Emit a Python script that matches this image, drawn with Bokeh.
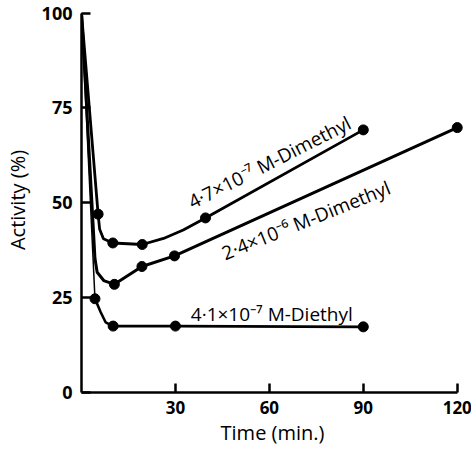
from bokeh.plotting import figure
from bokeh.models import Range1d, FixedTicker
from bokeh.embed import file_html
from bokeh.resources import INLINE
from bokeh.core.properties import value

# ---- data ----
# 4.7e-7 M Dimethyl: measured points
dm47_t = [5.3, 10, 19.4, 39.6, 90]
dm47_a = [47, 39.4, 39, 46, 69.2]
# drawn curve traced through the picture
dm47_curve_t = [0, 5.3, 5.8, 7, 10, 19.4, 26.2, 32.5, 39.6, 90]
dm47_curve_a = [100, 47, 43, 40.5, 39.4, 39, 40.6, 42.8, 46, 69.2]

# 2.4e-6 M Dimethyl
dm24_t = [10.5, 19.3, 29.7, 120]
dm24_a = [28.5, 33.2, 36, 69.8]
dm24_curve_t = [0, 4.3, 5, 7.1, 10.5, 19.3, 29.7, 120]
dm24_curve_a = [100, 35.3, 31.7, 29.5, 28.5, 33.2, 36, 69.8]

# 4.1e-7 M Diethyl
de41_t = [4.3, 10.1, 30, 90]
de41_a = [24.7, 17.5, 17.5, 17.3]
de41_curve_t = [0, 4.3, 6.1, 7.7, 10.1, 30, 90]
de41_curve_a = [100, 24.7, 21.2, 18.5, 17.5, 17.5, 17.3]

x_ticks = [30, 60, 90, 120]
y_ticks = [0, 25, 50, 75, 100]

labels = ["4\u00b77\u00d710\u207b\u2077 M-Dimethyl",
          "2\u00b74\u00d710\u207b\u2076 M-Dimethyl",
          "4\u00b71\u00d710\u207b\u2077 M-Diethyl"]
label_x = [34.5, 45.1, 34.9]
label_y = [49.9, 36.5, 20.6]
label_angle = [27, 22, 0]

FONT = "Open Sans"

p = figure(frame_width=382, frame_height=385, min_border_left=70,
           min_border_top=7, min_border_bottom=50, min_border_right=10,
           x_range=Range1d(0, 122), y_range=Range1d(0, 101.45),
           output_backend="svg", toolbar_location=None)
p.outline_line_color = None
p.xgrid.visible = False
p.ygrid.visible = False
p.background_fill_color = "white"

for ax in (p.xaxis[0], p.yaxis[0]):
    ax.axis_line_width = 2.5
    ax.axis_line_color = "black"
    ax.major_tick_line_width = 2.5
    ax.major_tick_line_color = "black"
    ax.major_tick_in = 9
    ax.major_tick_out = 0
    ax.minor_tick_line_color = None
    ax.major_label_text_font = FONT
    ax.major_label_text_font_style = "bold"
    ax.major_label_text_color = "black"
    ax.axis_label_text_font = FONT
    ax.axis_label_text_font_style = "normal"
    ax.axis_label_text_color = "black"

p.xaxis.bounds = (0, 120)
p.yaxis.bounds = (0, 100)
p.xaxis.ticker = FixedTicker(ticks=x_ticks)
p.yaxis.ticker = FixedTicker(ticks=y_ticks)
p.xaxis.major_label_text_font_size = "17px"
p.yaxis.major_label_text_font_size = "18px"
p.xaxis.major_label_standoff = 8
p.yaxis.major_label_standoff = 9
p.xaxis.axis_label = "Time (min.)"
p.yaxis.axis_label = "Activity (%)"
p.xaxis.axis_label_text_font_size = "20px"
p.yaxis.axis_label_text_font_size = "20px"
p.xaxis.axis_label_standoff = 2
p.yaxis.axis_label_standoff = 8

# curves
p.line(dm47_curve_t, dm47_curve_a, line_width=2.8, line_color="black")
p.line(dm24_curve_t, dm24_curve_a, line_width=3, line_color="black")
p.line(de41_curve_t[:2], de41_curve_a[:2], line_width=1.5, line_color="black")
p.line(de41_curve_t[1:], de41_curve_a[1:], line_width=2.6, line_color="black")

# measured points
for t, a in ((dm47_t, dm47_a), (dm24_t, dm24_a), (de41_t, de41_a)):
    p.scatter(t, a, size=10, marker="circle", fill_color="black", line_color="black")

p.text(x=label_x, y=label_y, text=labels, angle=label_angle, angle_units="deg",
       text_font=value(FONT), text_font_size="19px", text_color="black",
       text_align="left", text_baseline="alphabetic")

open("out.html", "w").write(file_html(p, INLINE))
